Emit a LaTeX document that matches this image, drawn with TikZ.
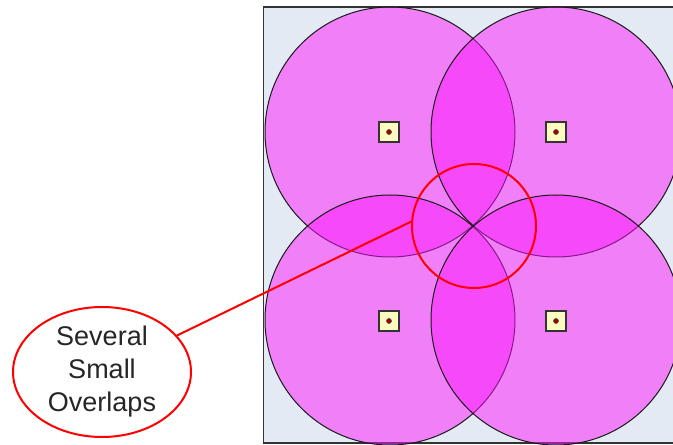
\documentclass[tikz,border=0pt]{standalone}
\usepackage{fontspec}
\setmainfont{Liberation Sans}
\usetikzlibrary{shapes.geometric}
\definecolor{bgblue}{RGB}{228,234,244}
\definecolor{mag}{RGB}{252,22,252}
\definecolor{sqfill}{RGB}{250,250,192}
\definecolor{dotred}{RGB}{160,0,0}
\tikzset{
  cov/.style={circle, draw=black!90, line width=1pt, fill=mag, fill opacity=0.5, draw opacity=1, minimum size=250pt, inner sep=0pt},
  ap/.style={rectangle, draw=black!80, line width=1.6pt, fill=sqfill, minimum size=20pt, inner sep=0pt},
  apdot/.style={circle, fill=dotred, draw=black!70, line width=0.6pt, minimum size=5pt, inner sep=0pt},
  callout/.style={draw=red, line width=2pt},
}
\begin{document}
\begin{tikzpicture}[x=1pt,y=1pt]
\useasboundingbox (0,0) rectangle (673,445);
\clip (0,0) rectangle (673,445);
% area
\fill[bgblue] (263,2) rectangle (690,438);
\draw[black!80, line width=1.6pt] (690,438) -- (263.5,438) -- (263.5,2) -- (690,2);
% coverage circles
\node[cov] (c1) at (390,313) {};
\node[cov] (c2) at (556,313) {};
\node[cov] (c3) at (390,125) {};
\node[cov] (c4) at (556,125) {};
% access points
\foreach \n/\x/\y in {a1/389/313, a2/556/313, a3/389/124, a4/556/124} {
  \node[ap] (\n) at (\x,\y) {};
  \node[apdot] (\n d) at (\n) {};
}
% callout
\node[circle, callout, minimum size=124pt, inner sep=0pt] (rc) at (474,219) {};
\node[ellipse, callout, minimum width=178pt, minimum height=130pt, inner sep=0pt, align=center,
      font=\fontsize{27}{33}\selectfont, text=black!85] (ell) at (102,73) {Several\\Small\\Overlaps};
\draw[callout] (ell) -- (rc.176);
\end{tikzpicture}
\end{document}
